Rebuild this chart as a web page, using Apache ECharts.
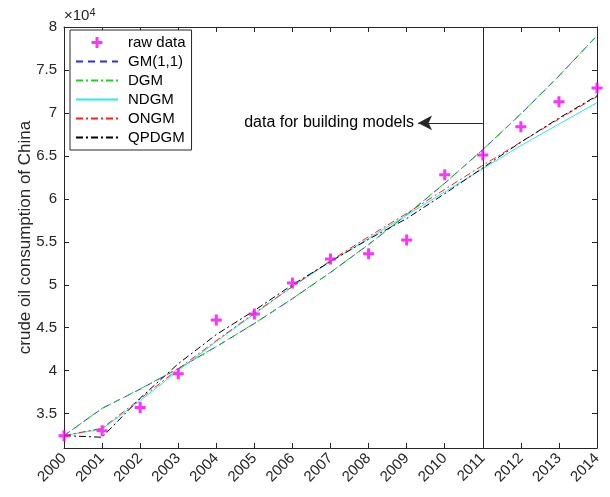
<!DOCTYPE html>
<html>
<head>
<meta charset="utf-8">
<script src="https://cdn.jsdelivr.net/npm/echarts@6/dist/echarts.min.js"></script>
<style>html,body{margin:0;padding:0;background:#fff;}#c{width:610px;height:497px;}</style>
</head>
<body>
<div id="c"></div>
<script>
const years = [2000,2001,2002,2003,2004,2005,2006,2007,2008,2009,2010,2011,2012,2013,2014];
const rawData = [32440,33000,35700,39650,45900,46600,50200,53000,53600,55200,62800,65100,68400,71300,72900];
const gm11 = [32440,35600,37850,40240,42790,45490,48370,51430,54680,58140,61810,65720,69880,74300,78990];
const dgm = [32440,35620,37870,40260,42810,45510,48390,51450,54700,58160,61830,65740,69900,74320,79010];
const ndgm = [32440,33200,36500,40000,43400,46600,49800,52700,55400,58100,60800,63500,66200,68700,71200];
const ongm = [32440,33300,36700,40200,43500,46700,49800,52800,55600,58300,61100,63900,66600,69300,71900];
const qpdgm = [32440,32250,36800,40800,44200,47000,50000,52700,55300,57700,60600,63600,66600,69400,72000];
const yTicks = [35000,40000,45000,50000,55000,60000,65000,70000,75000,80000];
const annotation = {text: 'data for building models', fromYear: 2011, toYear: 2009.3, value: 68840};

const pair = arr => years.map((y, i) => [y, arr[i]]);
const txt = '#262626';
const font = 'Liberation Sans, Arial, Helvetica, sans-serif';

const chart = echarts.init(document.getElementById('c'), null, {renderer: 'canvas'});
const lineSeries = (name, data, color, type) => ({
  name, type: 'line', data: pair(data), symbol: 'none', showSymbol: false,
  lineStyle: {color, width: 1, type}, itemStyle: {color}, z: 3, animation: false
});
const plusPath = 'path://M4,0H7V4H11V7H7V11H4V7H0V4H4Z';
const hiddenSym = {opacity: 0};

chart.setOption({
  animation: false,
  backgroundColor: '#fff',
  textStyle: {fontFamily: font},
  grid: {left: 64, right: 13, top: 27, bottom: 49, containLabel: false},
  legend: {
    orient: 'vertical', left: 70, top: 30,
    backgroundColor: '#fff', borderColor: '#262626', borderWidth: 1,
    padding: [5, 6, 5, 5], itemGap: 4, itemWidth: 42, itemHeight: 11,
    textStyle: {fontSize: 15, color: '#000', fontFamily: font, padding: [0, 0, 0, 5]},
    data: [
      {name: 'raw data'},
      {name: 'GM(1,1)', itemStyle: hiddenSym},
      {name: 'DGM', itemStyle: hiddenSym},
      {name: 'NDGM', itemStyle: hiddenSym},
      {name: 'ONGM', itemStyle: hiddenSym},
      {name: 'QPDGM', itemStyle: hiddenSym}
    ]
  },
  xAxis: [{
    type: 'value', min: 2000, max: 2014, interval: 1,
    axisLine: {show: true, onZero: false, lineStyle: {color: txt, width: 1}},
    axisTick: {show: true, inside: true, length: 5, lineStyle: {color: txt}},
    axisLabel: {rotate: 45, fontSize: 15, color: txt, fontFamily: font, margin: 8,
      formatter: v => String(v)},
    splitLine: {show: false}
  }, {
    type: 'value', min: 2000, max: 2014, interval: 1, position: 'top',
    axisLine: {show: true, onZero: false, lineStyle: {color: txt, width: 1}},
    axisTick: {show: true, inside: true, length: 5, lineStyle: {color: txt}},
    axisLabel: {show: false}, splitLine: {show: false}
  }],
  yAxis: [{
    type: 'value', min: 31000, max: 80000, splitNumber: 10,
    name: 'crude oil consumption of China', nameLocation: 'middle', nameGap: 30,
    nameMoveOverlap: false,
    nameTextStyle: {fontSize: 17, color: txt, fontFamily: font},
    axisLine: {show: true, onZero: false, lineStyle: {color: txt, width: 1}},
    axisTick: {show: true, inside: true, length: 5, lineStyle: {color: txt}},
    axisLabel: {fontSize: 15, color: txt, fontFamily: font, margin: 7, showMinLabel: false,
      formatter: v => yTicks.indexOf(v) >= 0 ? String(v / 10000) : ''},
    splitLine: {show: false}
  }, {
    type: 'value', min: 31000, max: 80000, splitNumber: 10, position: 'right',
    axisLine: {show: true, onZero: false, lineStyle: {color: txt, width: 1}},
    axisTick: {show: true, inside: true, length: 5, lineStyle: {color: txt}},
    axisLabel: {show: false}, splitLine: {show: false}
  }],
  graphic: [{
    type: 'text', left: 64, top: 7,
    style: {rich: {a: {fontSize: 15, fill: txt, fontFamily: font}, b: {fontSize: 11, fill: txt, fontFamily: font, verticalAlign: 'top', padding: [0,0,7,0]}},
      text: '{a|×10}{b|4}'}
  }],
  series: [
    lineSeries('GM(1,1)', gm11, '#2a2aff', [7, 5]),
    lineSeries('DGM', dgm, '#1fd21f', [7, 3, 2, 3]),
    lineSeries('NDGM', ndgm, '#22eeee', 'solid'),
    lineSeries('ONGM', ongm, '#ff2020', [7, 3, 2, 3]),
    Object.assign(lineSeries('QPDGM', qpdgm, '#000000', [7, 3, 2, 3]), {
      markLine: {
        silent: true, animation: false,
        data: [
          [{coord: [annotation.fromYear, 31000], symbol: 'none'}, {coord: [annotation.fromYear, 80000], symbol: 'none'}],
          [{coord: [annotation.fromYear, annotation.value], symbol: 'none'},
           {coord: [annotation.toYear, annotation.value], symbol: 'arrow', symbolSize: [11, 14],
            label: {show: true, position: 'end', formatter: annotation.text, fontSize: 16, color: '#000', fontFamily: font, distance: 4}}]
        ],
        lineStyle: {color: '#262626', width: 1, type: 'solid'},
        label: {show: false}
      }
    }),
    {
      name: 'raw data', type: 'scatter', data: pair(rawData), symbol: plusPath, symbolSize: 11,
      itemStyle: {color: '#ff00ff'}, z: 5, animation: false
    }
  ]
});
</script>
</body>
</html>
